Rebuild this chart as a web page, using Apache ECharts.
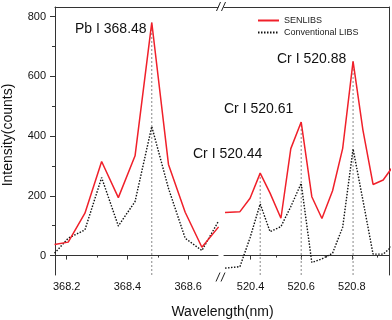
<!DOCTYPE html>
<html>
<head>
<meta charset="utf-8">
<script src="https://cdn.jsdelivr.net/npm/echarts@6/dist/echarts.min.js"></script>
<style>
  html, body { margin: 0; padding: 0; background: #fff; }
  #chart { width: 392px; height: 320px; }
</style>
</head>
<body>
<div id="chart"></div>
<script>
// left panel (Pb region)
const leftWavelengths = [368.16, 368.205, 368.26, 368.315, 368.37, 368.425, 368.48, 368.535, 368.59, 368.645, 368.70];
const leftSenlibs = [37, 45, 142, 315, 194, 334, 780, 305, 145, 28, 96];
const leftConventional = [8, 58, 86, 261, 99, 181, 432, 225, 58, 17, 116];
const leftPeakIndex = [6];

// right panel (Cr region)
const rightWavelengths = [520.299, 520.358, 520.398, 520.438, 520.477, 520.52, 520.559, 520.60, 520.642, 520.682, 520.724, 520.764, 520.805, 520.844, 520.884, 520.924, 520.964];
const rightSenlibs = [144, 147, 192, 276, 209, 125, 358, 447, 197, 124, 217, 359, 650, 420, 238, 253, 300];
const rightConventional = [-42, -37, 60, 173, 80, 97, 164, 242, -23, -11, 8, 95, 357, 185, 5, 5, 35];
const rightPeakIndex = [3, 7, 12];

const leftTicks = [368.2, 368.4, 368.6];
const leftMinorTicks = [368.3, 368.5];
const rightTicks = [520.4, 520.6, 520.8];
const rightMinorTicks = [520.5, 520.7, 520.9];
const yTicks = [0, 200, 400, 600, 800];
const yMinorTicks = [100, 300, 500, 700];

const peakLabels = ['Pb I 368.48', 'Cr I 520.44', 'Cr I 520.61', 'Cr I 520.88'];

const yMin = -65, yMax = 832;
const leftMin = 368.1615, leftMax = 368.698;
const rightMin = 520.295, rightMax = 520.947;

const font = 'Liberation Sans, Arial, sans-serif';
const axisColor = '#333';
const red = '#f0202a';

const chart = echarts.init(document.getElementById('chart'));

const zip = (xs, ys) => xs.map((x, i) => [x, ys[i]]);

function peakLines(xs, ys, idx, axis) {
  return idx.map(i => ({
    type: 'line',
    xAxisIndex: axis, yAxisIndex: axis,
    data: [[xs[i], yMin], [xs[i], ys[i]]],
    symbol: 'none', silent: true, z: 1,
    lineStyle: { color: '#888', width: 1, type: [2, 2] }
  }));
}

function xAxisOf(grid, min, max, opts) {
  return Object.assign({
    type: 'value', gridIndex: grid, min: min, max: max,
    axisLine: { show: false, lineStyle: { color: axisColor } },
    axisTick: { show: false, lineStyle: { color: axisColor } },
    axisLabel: { show: false },
    splitLine: { show: false }
  }, opts);
}

function yAxisOf(grid, opts) {
  return Object.assign({
    type: 'value', gridIndex: grid, min: yMin, max: yMax,
    axisLine: { show: false, lineStyle: { color: axisColor } },
    axisTick: { show: false, lineStyle: { color: axisColor } },
    axisLabel: { show: false },
    splitLine: { show: false }
  }, opts);
}

const tickLabel = { margin: 6, fontSize: 11, color: '#111', fontFamily: font };
const line = { show: true, lineStyle: { color: axisColor } };

const leftBox = { left: 55, right: 174, top: 7, bottom: 45 };
const rightBox = { left: 224, right: 3, top: 7, bottom: 45 };

const option = {
  animation: false,
  legend: {
    orient: 'vertical', left: 252, top: 11,
    itemWidth: 21, itemHeight: 9, itemGap: 3,
    itemStyle: { opacity: 0 },
    textStyle: { fontSize: 9, color: '#222', fontFamily: font },
    data: ['SENLIBS', 'Conventional LIBS']
  },
  // grids 0/1 carry data and frame, 2/3 sit on top of them for the minor ticks
  grid: [leftBox, rightBox, leftBox, rightBox],
  xAxis: [
    xAxisOf(0, leftMin, leftMax, {
      position: 'bottom', axisLine: line,
      axisTick: { show: true, length: 4, customValues: leftTicks, lineStyle: { color: axisColor } },
      axisLabel: Object.assign({ customValues: leftTicks }, tickLabel)
    }),
    xAxisOf(1, rightMin, rightMax, {
      position: 'bottom', axisLine: line,
      axisTick: { show: true, length: 4, customValues: rightTicks, lineStyle: { color: axisColor } },
      axisLabel: Object.assign({ customValues: rightTicks }, tickLabel)
    }),
    xAxisOf(2, leftMin, leftMax, {
      position: 'bottom',
      axisTick: { show: true, length: 2, customValues: leftMinorTicks, lineStyle: { color: axisColor } }
    }),
    xAxisOf(3, rightMin, rightMax, {
      position: 'bottom',
      axisTick: { show: true, length: 2, customValues: rightMinorTicks, lineStyle: { color: axisColor } }
    }),
    xAxisOf(0, leftMin, leftMax, { position: 'top', axisLine: line }),
    xAxisOf(1, rightMin, rightMax, { position: 'top', axisLine: line })
  ],
  yAxis: [
    yAxisOf(0, {
      position: 'left', axisLine: line,
      axisTick: { show: true, length: 5, customValues: yTicks, lineStyle: { color: axisColor } },
      axisLabel: { customValues: yTicks, margin: 9, fontSize: 11, color: '#111', fontFamily: font }
    }),
    yAxisOf(1, { position: 'right', axisLine: line }),
    yAxisOf(2, {
      position: 'left',
      axisTick: { show: true, length: 3, customValues: yMinorTicks, lineStyle: { color: axisColor } }
    }),
    yAxisOf(3, { position: 'left' })
  ],
  series: [
    ...peakLines(leftWavelengths, leftSenlibs, leftPeakIndex, 0),
    ...peakLines(rightWavelengths, rightSenlibs, rightPeakIndex, 1),
    {
      name: 'Conventional LIBS', type: 'line', xAxisIndex: 0, yAxisIndex: 0,
      data: zip(leftWavelengths, leftConventional), symbol: 'none', clip: false, z: 2,
      lineStyle: { color: '#111', width: 1.4, type: [1.5, 1.5] }, itemStyle: { color: '#111' }
    },
    {
      name: 'SENLIBS', type: 'line', xAxisIndex: 0, yAxisIndex: 0,
      data: zip(leftWavelengths, leftSenlibs), symbol: 'none', clip: false, z: 3,
      lineStyle: { color: red, width: 1.5 }, itemStyle: { color: red }
    },
    {
      name: 'Conventional LIBS', type: 'line', xAxisIndex: 1, yAxisIndex: 1,
      data: zip(rightWavelengths, rightConventional), symbol: 'none', z: 2,
      lineStyle: { color: '#111', width: 1.4, type: [1.5, 1.5] }, itemStyle: { color: '#111' }
    },
    {
      name: 'SENLIBS', type: 'line', xAxisIndex: 1, yAxisIndex: 1,
      data: zip(rightWavelengths, rightSenlibs), symbol: 'none', z: 3,
      lineStyle: { color: red, width: 1.5 }, itemStyle: { color: red }
    }
  ],
  graphic: [
    { type: 'text', left: 75, top: 22, style: { text: peakLabels[0], font: '14px ' + font, fill: '#111' } },
    { type: 'text', left: 193, top: 147, style: { text: peakLabels[1], font: '14px ' + font, fill: '#111' } },
    { type: 'text', left: 224, top: 102, style: { text: peakLabels[2], font: '14px ' + font, fill: '#111' } },
    { type: 'text', left: 277, top: 52, style: { text: peakLabels[3], font: '14px ' + font, fill: '#111' } },
    { type: 'text', x: 222.5, y: 312, style: { text: 'Wavelength(nm)', font: '14px ' + font, fill: '#111', align: 'center', verticalAlign: 'middle' } },
    { type: 'text', x: 8, y: 135, rotation: Math.PI / 2, style: { text: 'Intensity(counts)', font: '14px ' + font, fill: '#111', align: 'center', verticalAlign: 'middle' } },
    // axis break marks
    { type: 'line', shape: { x1: 216.5, y1: 11, x2: 220.5, y2: 2 }, style: { stroke: '#222', lineWidth: 1 } },
    { type: 'line', shape: { x1: 221.5, y1: 11, x2: 225.5, y2: 2 }, style: { stroke: '#222', lineWidth: 1 } },
    { type: 'line', shape: { x1: 216, y1: 281.5, x2: 220, y2: 272.5 }, style: { stroke: '#222', lineWidth: 1 } },
    { type: 'line', shape: { x1: 221, y1: 281.5, x2: 225, y2: 272.5 }, style: { stroke: '#222', lineWidth: 1 } }
  ]
};

chart.setOption(option);
</script>
</body>
</html>
